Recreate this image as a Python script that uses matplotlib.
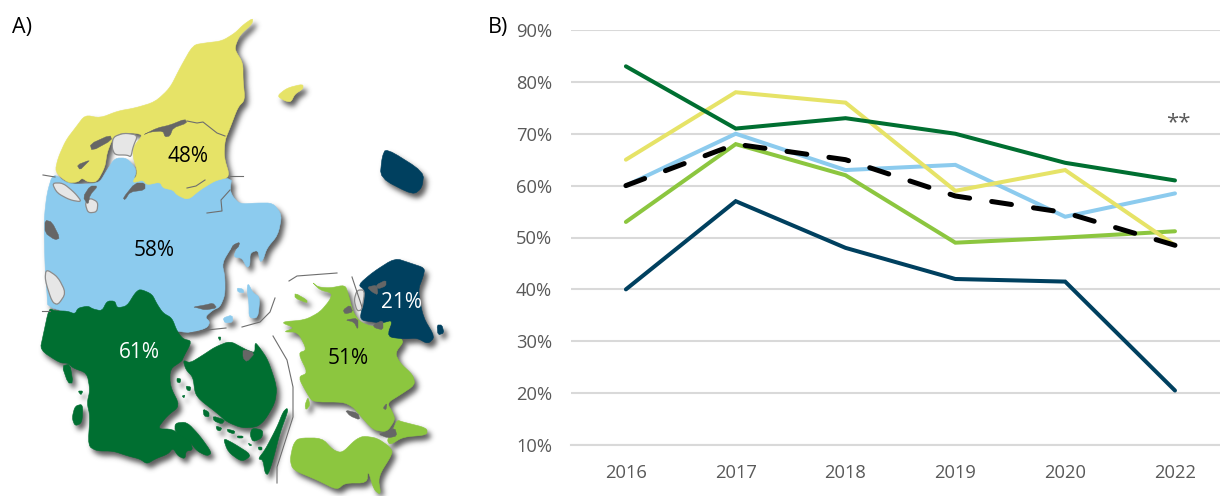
import matplotlib
matplotlib.use("Agg")
import matplotlib.pyplot as plt
import numpy as np
from matplotlib.patches import Polygon

plt.rcParams['font.family'] = ['Open Sans', 'DejaVu Sans']

# ---------- chart data ----------
years = ['2016', '2017', '2018', '2019', '2020', '2022']
nordjylland = [65, 78, 76, 59, 63, 48.5]
midtjylland = [60, 70, 63, 64, 54, 58.5]
syddanmark = [83, 71, 73, 70, 64.4, 61]
sjaelland = [53, 68, 62, 49, 50, 51.2]
hovedstaden = [40, 57, 48, 42, 41.5, 20.5]
national = [60, 68, 65, 58, 54.8, 48.5]
y_ticks = [10, 20, 30, 40, 50, 60, 70, 80, 90]
map_labels = [('48%', 188, 156, 'black'), ('58%', 154, 250, 'black'), ('61%', 139, 353, 'white'),
              ('51%', 348, 358, 'black'), ('21%', 401, 303, 'white')]

YEL, BLU, GRN, LIM, NAV = '#E6E367', '#8CCBEE', '#006F31', '#8CC63F', '#00405F'

# ---------- map outlines (figure pixels) ----------
blue_land = [(53,173),(68,184),(90,184),(100,182),(107,170),(115,158),(127,158),(137,170),(133,182),(232,176),
    (230,190),(233,197),(240,204),(257,203),(273,203),(282,215),(278,235),(267,248),(263,260),(260,262),(258,250),
    (250,253),(250,265),(247,268),(242,258),(233,257),(240,242),(233,245),(222,263),(225,277),(225,295),(220,307),
    (213,310),(205,317),(210,322),(207,328),(190,333),(170,330),(48,310),(47,293),(45,267),(44,220),(47,193)]
blue_isles = [[(248,283),(253,293),(260,297),(258,318),(249,318),(249,303),(247,290)],
    [(237,288),(243,289),(244,293),(238,292)],
    [(223,318),(232,315),(233,322),(225,323)]]
yellow_land = [(55,172),(58,158),(66,140),(76,127),(85,115),(100,118),(118,111),(135,108),(155,102),(170,88),
    (180,68),(193,45),(205,43),(222,41),(235,33),(243,25),(253,18),(252,24),(240,35),(236,44),(235,50),(243,63),
    (243,80),(245,100),(238,107),(230,128),(225,140),(224,157),(230,177),(218,180),(213,182),(200,190),(188,200),
    (177,195),(173,190),(163,188),(160,182),(147,185),(143,180),(132,183),(138,173),(133,157),(133,147),(143,135),
    (135,133),(120,133),(112,140),(107,153),(105,167),(97,182),(88,182),(82,178),(78,182),(68,183)]
yellow_isles = [[(277,96),(287,88),(303,84),(303,89),(295,94),(291,102),(285,101)]]
green_land = [(49,308),(43,336),(40,350),(60,363),(68,363),(73,368),(87,373),(90,390),(87,403),(90,416),(88,446),
    (97,451),(113,451),(128,456),(140,459),(147,464),(155,459),(168,454),(173,448),(178,456),(185,459),(186,451),
    (193,450),(190,441),(182,436),(172,429),(157,429),(167,416),(180,406),(170,386),(170,369),(182,361),(183,358),
    (192,341),(183,339),(177,331),(172,318),(163,313),(157,304),(152,294),(140,289),(135,293),(127,306),(117,308),
    (115,301),(107,301),(102,311),(93,309),(88,306),(78,308),(75,314),(67,311),(55,311)]
green_isles = [[(190,363),(203,355),(215,347),(230,341),(243,348),(247,350),(255,353),(255,342),(260,348),(268,360),
        (277,387),(275,403),(265,420),(257,427),(242,428),(227,422),(217,413),(200,400),(195,393),(193,377),(186,370),(183,360)],
    [(287,408),(288,411),(280,433),(273,460),(268,475),(265,473),(263,460),(258,459),(265,450),(277,427),(283,412)],
    [(223,438),(233,443),(252,455),(242,462),(228,452)],
    [(252,428),(263,430),(262,438),(253,442),(250,435)],
    [(175,423),(187,422),(200,436),(212,453),(207,456),(197,451),(190,442),(175,432)],
    [(62,366),(70,364),(73,383),(68,383)],
    [(78,391),(83,391),(81,395)],
    [(75,406),(83,404),(82,423),(75,426),(72,418)],
    [(203,409),(209,412),(209,417),(204,416)],
    [(213,416),(225,420),(222,424),(214,421)],
    [(216,426),(222,428),(220,431),(217,430)],
    [(227,429),(235,431),(234,434),(228,432)],
    [(237,436),(243,436),(243,438),(238,438)],
    [(248,443),(252,445),(250,446)],[(258,447),(262,447),(262,450),(259,450)],
    [(177,378),(181,379),(180,383),(177,382)],[(186,386),(191,387),(190,391),(187,390)],[(182,396),(185,395),(184,398)],
    [(218,337),(221,337),(220,341)]]
lime_land = [(312,282),(318,287),(330,288),(345,285),(348,293),(353,312),(360,322),(373,327),(382,323),(393,320),
    (387,333),(405,340),(395,353),(400,363),(413,375),(415,385),(400,395),(387,403),(393,413),(395,420),(387,432),
    (373,430),(358,413),(353,407),(343,402),(313,402),(308,395),(298,377),(308,373),(298,353),(307,350),(298,332),
    (283,332),(295,328),(280,322),(305,320),(320,312),(330,300),(332,293),(320,290)]
lime_isles = [[(298,438),(322,438),(333,450),(342,453),(355,440),(363,436),(377,438),(390,447),(393,453),(378,477),
        (381,495),(374,490),(368,470),(367,483),(345,483),(337,490),(317,480),(293,470),(290,460),(293,445)],
    [(397,420),(403,422),(427,428),(427,435),(403,437),(390,445),(387,440),(393,430)],
    [(295,293),(307,300),(307,303),(295,298)],
    [(305,405),(308,397),(310,405),(306,410)]]
navy_land = [(358,285),(373,272),(395,258),(410,263),(425,268),(423,277),(418,290),(423,317),(435,337),(428,344),
    (417,338),(405,339),(387,337),(393,320),(382,323),(373,322),(360,320),(362,307),(365,290)]
navy_isles = [[(386,148),(424,172),(422,188),(413,195),(380,178),(382,157)],
    [(437,325),(442,325),(444,333),(438,335)]]
water_white = [
    [(113,137),(124,133),(138,135),(133,147),(131,157),(127,155),(115,155),(112,148)],
    [(52,183),(63,183),(75,193),(82,202),(70,200),(57,193)],
    [(85,203),(90,198),(98,202),(97,212),(88,213)],
    [(46,269),(58,277),(66,293),(58,305),(52,302),(45,280)],
    [(357,290),(365,290),(362,310),(357,311),(354,300)]]
water_dark = [
    [(143,135),(157,128),(170,125),(185,119),(187,123),(173,128),(170,136),(165,137),(163,131),(150,132)],
    [(90,144),(110,135),(112,140),(92,151)],
    [(77,165),(90,160),(86,164),(80,170)],
    [(45,220),(52,222),(60,238),(55,240),(45,233)],
    [(123,198),(135,183),(145,183),(145,190),(130,192),(125,200)],
    [(83,197),(90,186),(98,186),(90,195),(88,205)],
    [(193,307),(205,305),(213,303),(217,308),(205,310),(198,308)],
    [(233,245),(240,242),(238,248),(231,250)],
    [(243,349),(255,353),(247,362),(243,358)],
    [(367,287),(377,285),(378,295),(372,292)],
    [(376,285),(386,280),(386,286),(378,289)],
    [(343,310),(350,305),(353,312),(345,314)],
    [(345,320),(358,318),(358,330),(354,322)],
    [(373,325),(383,320),(383,330),(375,328)],
    [(383,408),(387,403),(386,410)],
    [(387,432),(395,428),(397,436),(388,438),(378,434)],
    [(345,410),(358,413),(360,420),(350,416)]]
thin_lines = [
    [(289,281),(297,276),(337,273)], [(352,277),(358,295),(362,307)],
    [(273,336),(287,360),(293,387),(293,417),(277,467),(277,483)],
    [(242,327),(260,322),(270,312),(275,298)], [(190,333),(207,330),(226,328)],
    [(43,175),(55,177)], [(230,176),(243,176)], [(42,311),(50,311)],
    [(187,121),(197,123),(203,122),(217,133),(225,136)], [(205,180),(196,186),(187,188)],
    [(230,190),(221,200),(222,211),(207,213)]]


def smooth(pts, rounds=2):
    """Corner cutting so the hand-traced coasts are not angular."""
    p = np.asarray(pts, float)
    if len(p) < 5:
        rounds = 1
    for _ in range(rounds):
        q = np.roll(p, -1, axis=0)
        p = np.column_stack([0.8 * p + 0.2 * q, 0.2 * p + 0.8 * q]).reshape(-1, 2)
    return p


W, H = 1220, 496
groups = [(blue_land, blue_isles, BLU), (green_land, green_isles, GRN), (lime_land, lime_isles, LIM),
          (navy_land, navy_isles, NAV), (yellow_land, yellow_isles, YEL)]

# blurred shadow mask, rasterised once offscreen
sf = plt.figure(figsize=(W / 100, H / 100), dpi=100)
sa = sf.add_axes([0, 0, 1, 1])
sa.set_xlim(0, W)
sa.set_ylim(H, 0)
sa.axis('off')
for land, isles, _ in groups:
    for pts in [land] + isles:
        sa.add_patch(Polygon(smooth(pts) + (3.5, 4.5), closed=True, fc='black', ec='black', lw=0.5))
sf.canvas.draw()
mask = 1 - np.asarray(sf.canvas.buffer_rgba())[..., 0] / 255.0
plt.close(sf)
k = np.exp(-0.5 * (np.arange(-9, 10) / 2.6) ** 2)
k /= k.sum()
mask = np.apply_along_axis(lambda r: np.convolve(r, k, mode='same'), 0, mask)
mask = np.apply_along_axis(lambda r: np.convolve(r, k, mode='same'), 1, mask)
shadow = np.zeros((mask.shape[0], mask.shape[1], 4))
shadow[..., :3] = 0.25
shadow[..., 3] = np.clip(mask * 0.85, 0, 1)

fig = plt.figure(figsize=(12.2, 4.96), dpi=100)

# ---------- map panel ----------
mp = fig.add_axes([0, 0, 1, 1])
mp.imshow(shadow, extent=(0, W, H, 0), interpolation='nearest', zorder=1, aspect='auto')
mp.set_xlim(0, W)
mp.set_ylim(H, 0)
mp.axis('off')

for land, isles, col in groups:
    z = 4 if col == YEL else 3
    for pts in [land] + isles:
        mp.add_patch(Polygon(smooth(pts), closed=True, fc=col, ec=col, lw=0.4, joinstyle='round', zorder=z))

for pts in water_white:
    mp.add_patch(Polygon(smooth(pts), closed=True, fc='#E6E6E6', ec='#8C8C8C', lw=0.9, zorder=5))
for pts in water_dark:
    mp.add_patch(Polygon(smooth(pts, 1), closed=True, fc='#666666', ec='#666666', lw=0.3, zorder=5))
for pts in thin_lines:
    mp.plot([p[0] for p in pts], [p[1] for p in pts], color='#6E6E6E', lw=0.8, zorder=5)

for txt, x, y, c in map_labels:
    mp.text(x, y, txt, color=c, fontsize=15, ha='center', va='center', zorder=6)
mp.text(22, 27, 'A)', color='black', fontsize=15.5, ha='center', va='center')
mp.text(498, 27, 'B)', color='black', fontsize=15.5, ha='center', va='center')

# ---------- line panel ----------
ax = fig.add_axes([571 / W, 1 - 445 / H, (1220 - 571) / W, (445 - 30) / H])
ax.patch.set_alpha(0)
x = list(range(len(years)))
ax.set_xlim(-0.5, 5.41)
ax.set_ylim(10, 90)
ax.set_yticks(y_ticks)
ax.set_yticklabels([f'{v}%' for v in y_ticks])
ax.set_xticks(x)
ax.set_xticklabels(years)
ax.grid(axis='y', color='#D9D9D9', lw=1.5)
ax.set_axisbelow(True)
for s in ax.spines.values():
    s.set_visible(False)
ax.spines['bottom'].set_visible(True)
ax.spines['bottom'].set_color('#D9D9D9')
ax.spines['bottom'].set_linewidth(1.5)
ax.tick_params(axis='both', length=0, labelcolor='#595959', labelsize=13.2)
ax.tick_params(axis='y', pad=13.5)
ax.tick_params(axis='x', pad=13.5)

for vals, col in [(sjaelland, LIM), (midtjylland, BLU), (nordjylland, YEL), (syddanmark, GRN), (hovedstaden, NAV)]:
    ax.plot(x, vals, color=col, lw=2.9, solid_capstyle='round', solid_joinstyle='miter', clip_on=False)
ax.plot(x, national, color='black', lw=3.6, linestyle=(0, (4.0, 4.46)), dash_capstyle='round', clip_on=False)
ax.text(5.03, 72.2, '**', color='#595959', fontsize=16, ha='center', va='center')

fig.savefig('out.png', dpi=100)
